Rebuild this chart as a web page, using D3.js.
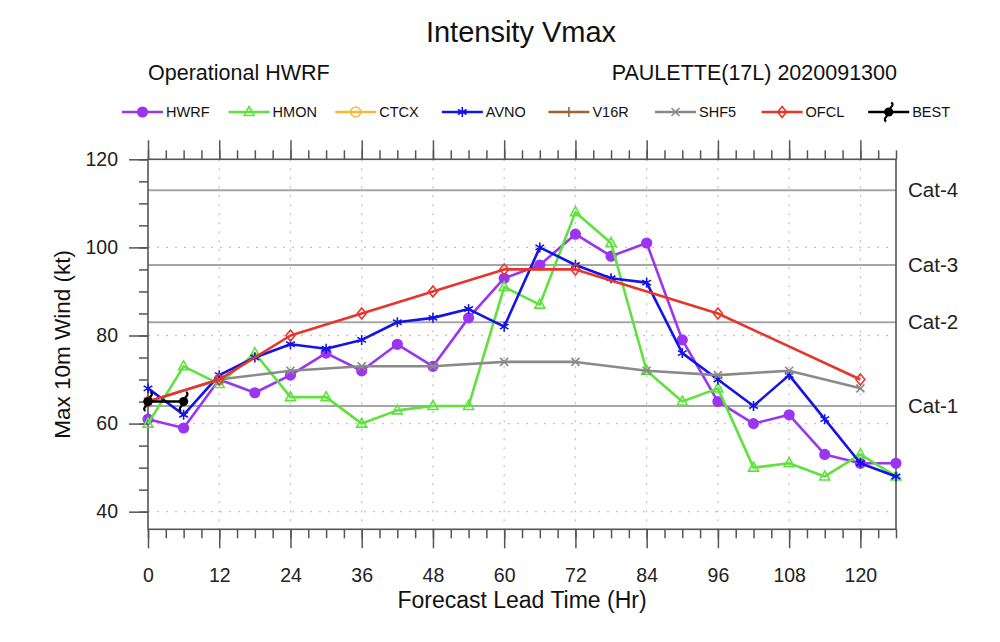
<!DOCTYPE html>
<html><head><meta charset="utf-8">
<script src="https://cdn.jsdelivr.net/npm/d3@7"></script>
<style>
html,body{margin:0;padding:0;background:#fff;}
svg{display:block;font-family:"Liberation Sans",Arial,sans-serif;}
</style></head>
<body>
<svg id="chart" width="1000" height="642"></svg>
<script>
// ---------------- data ----------------
const hours6   = [0,6,12,18,24,30,36,42,48,54,60,66,72,78,84,90,96,102,108,114,120,126];
const hwrf     = [61,59,70,67,71,76,72,78,73,84,93,96,103,98,101,79,65,60,62,53,51,51];
const hmon     = [60,73,69,76,66,66,60,63,64,64,91,87,108,101,72,65,68,50,51,48,53,48];
const avno     = [68,62,71,75,78,77,79,83,84,86,82,100,96,93,92,76,70,64,71,61,51,48];
const ctcxHours = [];
const ctcx      = [];
const v16rHours = [];
const v16r      = [];
const shf5Hours = [0,12,24,36,48,60,72,84,96,108,120];
const shf5      = [65,70,72,73,73,74,74,72,71,72,68];
const ofclHours = [0,12,24,36,48,60,72,96,120];
const ofcl      = [65,70,80,85,90,95,95,85,70];
const bestHours = [0,6];
const best      = [65,65];

const xTicks = [0,12,24,36,48,60,72,84,96,108,120];
const yTicks = [40,60,80,100,120];
const catValues = [64,83,96,113];
const catLabels = ["Cat-1","Cat-2","Cat-3","Cat-4"];

const seriesNames = ["HWRF","HMON","CTCX","AVNO","V16R","SHF5","OFCL","BEST"];
const seriesColors = ["#9b35f0","#5fe23e","#f7b73a","#1414e6","#9c6436","#8a8a8a","#e8352b","#000000"];
const seriesMarkers = ["dot","triangle","circle","asterisk","plus","times","diamond","hurricane"];
const seriesX = [hours6,hours6,ctcxHours,hours6,v16rHours,shf5Hours,ofclHours,bestHours];
const seriesY = [hwrf,hmon,ctcx,avno,v16r,shf5,ofcl,best];

// ---------------- layout ----------------
const L = 148, R = 896, T = 159.3, B = 529.3;
const svg = d3.select("#chart");
const x = d3.scaleLinear().domain([0,126]).range([L,R]);
const y = d3.scaleLinear().domain([36,120]).range([B,T]);

function markerPath(type, s){
  s = s || 5;
  switch(type){
    case "triangle": return `M0,${-s*1.1}L${s},${s*0.7}L${-s},${s*0.7}Z`;
    case "circle": case "dot": return `M${s},0A${s},${s} 0 1,1 ${-s},0A${s},${s} 0 1,1 ${s},0Z`;
    case "diamond": return `M0,${-s*1.1}L${s*0.9},0L0,${s*1.1}L${-s*0.9},0Z`;
    case "plus": return `M${-s},0L${s},0M0,${-s}L0,${s}`;
    case "times": return `M${-s*0.8},${-s*0.8}L${s*0.8},${s*0.8}M${-s*0.8},${s*0.8}L${s*0.8},${-s*0.8}`;
    case "asterisk": {
      let p = "";
      for (let k=0;k<3;k++){ const a = Math.PI/2 + k*Math.PI/3; p += `M${-s*Math.cos(a)},${-s*Math.sin(a)}L${s*Math.cos(a)},${s*Math.sin(a)}`; }
      return p;
    }
  }
  return "";
}

function drawMarker(g, type, color, cx, cy){
  if (type === "hurricane"){
    const h = g.append("g").attr("transform",`translate(${cx},${cy})`);
    h.append("circle").attr("r",4.6).attr("fill",color);
    h.append("path").attr("d","M1.5,-4C4,-6 5,-8 2.5,-9.5M-1.5,4C-4,6 -5,8 -2.5,9.5")
      .attr("fill","none").attr("stroke",color).attr("stroke-width",2.2);
    return;
  }
  const filled = type === "dot";
  g.append("path").attr("transform",`translate(${cx},${cy})`)
    .attr("d", markerPath(type, type==="dot"?4.8:5))
    .attr("fill", filled ? color : "none")
    .attr("stroke", color).attr("stroke-width", 1.6);
}

// ---------------- titles ----------------
svg.append("text").attr("x",521).attr("y",42).attr("text-anchor","middle")
  .attr("font-size",29).attr("fill","#111").text("Intensity Vmax");
svg.append("text").attr("x",148).attr("y",80).attr("font-size",21.5).attr("fill","#111").text("Operational HWRF");
svg.append("text").attr("x",897).attr("y",80).attr("text-anchor","end").attr("font-size",21.5).attr("fill","#111").text("PAULETTE(17L) 2020091300");

// ---------------- grid ----------------
const grid = svg.append("g");
xTicks.filter(d=>d>0).forEach(d=>{
  grid.append("line").attr("x1",x(d)).attr("x2",x(d)).attr("y1",T).attr("y2",B)
    .attr("stroke","#c4c4c4").attr("stroke-width",1.3).attr("stroke-dasharray","2,7");
});
yTicks.filter(d=>d<120).forEach(d=>{
  grid.append("line").attr("x1",L).attr("x2",R).attr("y1",y(d)).attr("y2",y(d))
    .attr("stroke","#c4c4c4").attr("stroke-width",1.3).attr("stroke-dasharray","2,7");
});
catValues.forEach((c,i)=>{
  grid.append("line").attr("x1",L).attr("x2",R).attr("y1",y(c)).attr("y2",y(c))
    .attr("stroke","#a6a6a6").attr("stroke-width",2);
  svg.append("text").attr("x",908).attr("y",y(c)).attr("dy","0.35em")
    .attr("font-size",20.5).attr("fill","#222").text(catLabels[i]);
});

// ---------------- axes ----------------
const tickColor = "#555";
const xMinor = d3.range(0,127,3);
const yMinor = d3.range(40,121,5);
const axB = svg.append("g").attr("transform",`translate(0,${B})`)
  .call(d3.axisBottom(x).tickValues(xMinor).tickSize(9).tickFormat(""));
const axB2 = svg.append("g").attr("transform",`translate(0,${B})`)
  .call(d3.axisBottom(x).tickValues(xTicks).tickSize(19).tickPadding(20).tickFormat(d3.format("d")));
const axT = svg.append("g").attr("transform",`translate(0,${T})`)
  .call(d3.axisTop(x).tickValues(xMinor).tickSize(9).tickFormat(""));
const axT2 = svg.append("g").attr("transform",`translate(0,${T})`)
  .call(d3.axisTop(x).tickValues(xTicks).tickSize(19).tickFormat(""));
const axL = svg.append("g").attr("transform",`translate(${L},0)`)
  .call(d3.axisLeft(y).tickValues(yMinor).tickSize(9).tickFormat(""));
const axL2 = svg.append("g").attr("transform",`translate(${L},0)`)
  .call(d3.axisLeft(y).tickValues(yTicks).tickSize(19).tickPadding(11).tickFormat(d3.format("d")));
[axB,axB2,axT,axT2,axL,axL2].forEach(a=>{
  a.select(".domain").remove();
  a.selectAll(".tick line").attr("stroke",tickColor).attr("stroke-width",1.5);
  a.selectAll(".tick text").attr("font-size",19.5).attr("fill","#222")
    .attr("font-family","Liberation Sans, Arial, sans-serif");
});
svg.append("rect").attr("x",L).attr("y",T).attr("width",R-L).attr("height",B-T)
  .attr("fill","none").attr("stroke",tickColor).attr("stroke-width",1.6);

svg.append("text").attr("x",522).attr("y",608).attr("text-anchor","middle")
  .attr("font-size",23).attr("fill","#111").text("Forecast Lead Time (Hr)");
svg.append("text").attr("transform",`translate(70,${(T+B)/2}) rotate(-90)`).attr("text-anchor","middle")
  .attr("font-size",22.5).attr("fill","#111").text("Max 10m Wind (kt)");

// ---------------- series ----------------
const plot = svg.append("g");
const line = d3.line().x(d=>x(d[0])).y(d=>y(d[1]));
seriesNames.forEach((name,i)=>{
  const pts = seriesX[i].map((h,k)=>[h, seriesY[i][k]]);
  if (!pts.length) return;
  plot.append("path").attr("d", line(pts)).attr("fill","none")
    .attr("stroke", seriesColors[i]).attr("stroke-width", 2.6).attr("stroke-linejoin","round");
  pts.forEach(p=> drawMarker(plot, seriesMarkers[i], seriesColors[i], x(p[0]), y(p[1])));
});

// ---------------- legend ----------------
const legX0 = 122, legDX = 106.6, legY = 112;
const leg = svg.append("g");
seriesNames.forEach((name,i)=>{
  const lx = legX0 + i*legDX;
  leg.append("line").attr("x1",lx).attr("x2",lx+41).attr("y1",legY).attr("y2",legY)
    .attr("stroke",seriesColors[i]).attr("stroke-width",2.6);
  drawMarker(leg, seriesMarkers[i], seriesColors[i], lx+20.5, legY);
  leg.append("text").attr("x",lx+44).attr("y",legY).attr("dy","0.36em")
    .attr("font-size",14.5).attr("fill","#111").text(name);
});
</script>
</body></html>
